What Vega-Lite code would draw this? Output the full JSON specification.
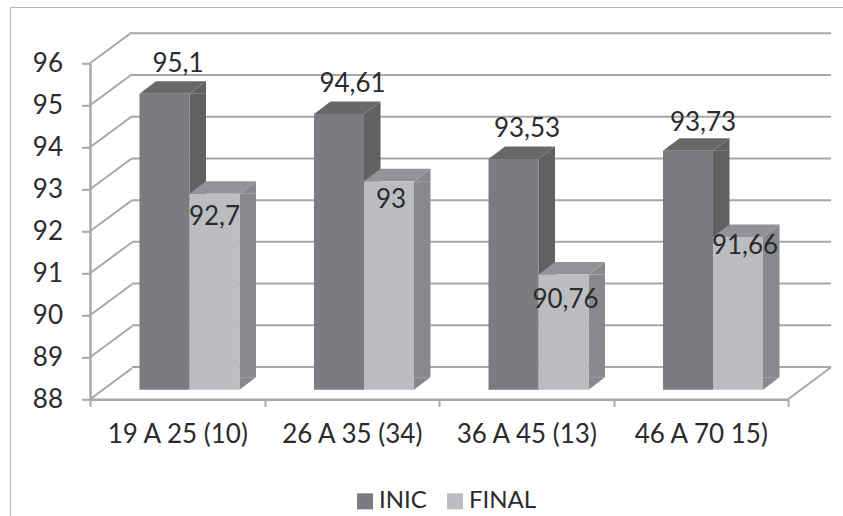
{
  "$schema": "https://vega.github.io/schema/vega-lite/v6.json",
  "width": 698,
  "height": 336,
  "autosize": {"type": "none"},
  "padding": {"left": 90, "top": 63.3, "right": 55, "bottom": 116.7},
  "background": "#ffffff",
  "config": {
    "view": {"stroke": null},
    "font": "Lato",
    "locale": {"number": {"decimal": ",", "thousands": ".", "grouping": [3], "currency": ["", ""]}}
  },
  "datasets": {
    "scores": [
      {"age": "19 A 25 (10)", "series": "INIC", "value": 95.1},
      {"age": "19 A 25 (10)", "series": "FINAL", "value": 92.7},
      {"age": "26 A 35 (34)", "series": "INIC", "value": 94.61},
      {"age": "26 A 35 (34)", "series": "FINAL", "value": 93},
      {"age": "36 A 45 (13)", "series": "INIC", "value": 93.53},
      {"age": "36 A 45 (13)", "series": "FINAL", "value": 90.76},
      {"age": "46 A 70 15)", "series": "INIC", "value": 93.73},
      {"age": "46 A 70 15)", "series": "FINAL", "value": 91.66}
    ],
    "levels": [{"level": 88}, {"level": 89}, {"level": 90}, {"level": 91}, {"level": 92}, {"level": 93}, {"level": 94}, {"level": 95}, {"level": 96}]
  },
  "resolve": {"scale": {"x": "independent", "y": "independent"}},
  "layer": [
    {
      "description": "Outer frame: left and top hairlines",
      "data": {"values": [{"k": 1}]},
      "mark": {"type": "rule", "color": "#b7b7b7", "strokeWidth": 1},
      "encoding": {"x": {"value": -79.5}, "y": {"value": -55.8}, "y2": {"value": 460}}
    },
    {
      "data": {"values": [{"k": 1}]},
      "mark": {"type": "rule", "color": "#b7b7b7", "strokeWidth": 1},
      "encoding": {"x": {"value": -79.5}, "x2": {"value": 760}, "y": {"value": -55.8}}
    },
    {
      "description": "Back wall gridlines",
      "data": {"name": "levels"},
      "mark": {"type": "rule", "color": "#a6a7a9", "strokeWidth": 2, "xOffset": 42, "x2Offset": 43},
      "encoding": {
        "x": {"datum": 0, "type": "quantitative", "scale": {"domain": [0, 1], "range": [0, 698]}, "axis": null},
        "x2": {"datum": 1},
        "y": {"field": "level", "type": "quantitative", "scale": {"domain": [88, 96], "range": [303.7, -30], "nice": false, "zero": false}, "axis": null}
      }
    },
    {
      "description": "Left side wall: slanted lines from the axis to the back wall",
      "data": {"name": "levels"},
      "mark": {"type": "rule", "color": "#a6a7a9", "strokeWidth": 2, "x2Offset": 42, "y2Offset": -31},
      "encoding": {
        "x": {"datum": 0, "type": "quantitative", "scale": {"domain": [0, 1], "range": [0, 698]}, "axis": null},
        "x2": {"datum": 0},
        "y": {"field": "level", "type": "quantitative", "scale": {"domain": [88, 96], "range": [336, 0], "nice": false, "zero": false}, "axis": null},
        "y2": {"field": "level"}
      }
    },
    {
      "description": "Right edge of the floor",
      "data": {"values": [{"level": 88}]},
      "mark": {"type": "rule", "color": "#a6a7a9", "strokeWidth": 2, "x2Offset": 43, "y2Offset": -32},
      "encoding": {
        "x": {"datum": 1, "type": "quantitative", "scale": {"domain": [0, 1], "range": [0, 698]}, "axis": null},
        "x2": {"datum": 1},
        "y": {"field": "level", "type": "quantitative", "scale": {"domain": [88, 96], "range": [336, 0], "nice": false, "zero": false}, "axis": null},
        "y2": {"field": "level"}
      }
    },
    {
      "description": "Invisible layer that carries the axes",
      "data": {"name": "scores"},
      "mark": {"type": "bar", "opacity": 0},
      "encoding": {
        "x": {
          "field": "age", "type": "nominal", "sort": null, "title": null,
          "scale": {"paddingInner": 0, "paddingOuter": 0},
          "axis": {"labelAngle": 0, "labelFontSize": 26, "labelColor": "#2b2b2d", "labelPadding": 15, "tickBand": "extent", "tickSize": 7, "tickWidth": 2, "tickColor": "#a8a9ab", "domainWidth": 2.5, "domainColor": "#a8a9ab", "grid": false, "labelLimit": 200}
        },
        "y": {
          "field": "value", "type": "quantitative", "title": null,
          "scale": {"domain": [88, 96], "range": [336, 0], "nice": false, "zero": false},
          "axis": {"values": [88, 89, 90, 91, 92, 93, 94, 95, 96], "labelFontSize": 26, "labelColor": "#2b2b2d", "labelPadding": 19, "tickSize": 8.5, "tickWidth": 2, "tickColor": "#a8a9ab", "domainWidth": 2.5, "domainColor": "#a8a9ab", "grid": false}
        }
      }
    },
    {
      "description": "Side faces of the bars, on a band scale shifted to the right of each front face",
      "data": {"name": "scores"},
      "mark": {"type": "bar", "width": 16.5, "y2Offset": -12.5},
      "encoding": {
        "x": {"field": "age", "type": "nominal", "sort": null, "scale": {"range": [45.5, 743.5], "paddingInner": 0, "paddingOuter": 0}, "axis": null},
        "xOffset": {"field": "series", "type": "nominal", "sort": ["INIC", "FINAL"], "scale": {"domain": ["INIC", "FINAL"], "paddingInner": 0, "paddingOuter": 0.745}},
        "y": {"field": "value", "type": "quantitative", "scale": {"domain": [88, 96], "range": [326.4, -7.2], "nice": false, "zero": false}, "axis": null},
        "y2": {"datum": 88},
        "color": {"condition": {"test": "datum.series === 'INIC'", "value": "#616163"}, "value": "#88898c"}
      }
    },
    {
      "description": "Bars with their projected side and top faces",
      "data": {"name": "scores"},
      "encoding": {
        "x": {"field": "age", "type": "nominal", "sort": null, "scale": {"range": [12.25, 710.25], "paddingInner": 0, "paddingOuter": 0}, "axis": null},
        "xOffset": {"field": "series", "type": "nominal", "sort": ["INIC", "FINAL"], "scale": {"domain": ["INIC", "FINAL"], "paddingInner": 0, "paddingOuter": 0.745}},
        "y": {"field": "value", "type": "quantitative", "scale": {"domain": [88, 96], "range": [326.4, -7.2], "nice": false, "zero": false}, "axis": null}
      },
      "layer": [
        {
          "mark": {"type": "point", "filled": true, "opacity": 1, "size": 4, "shape": "M25,0L41.5,-12.5L41.5,0Z"},
          "encoding": {
            "color": {"condition": {"test": "datum.series === 'INIC'", "value": "#616163"}, "value": "#88898c"}
          }
        },
        {
          "mark": {"type": "point", "filled": true, "opacity": 1, "size": 4, "shape": "M25,-12.5L41.5,-12.5L25,0Z"},
          "encoding": {
            "y": {"datum": 88},
            "color": {"condition": {"test": "datum.series === 'INIC'", "value": "#616163"}, "value": "#88898c"}
          }
        },
        {
          "mark": {"type": "point", "filled": true, "opacity": 1, "size": 4, "shape": "M-25,0L-8.5,-12.5L41.5,-12.5L25,0Z"},
          "encoding": {
            "color": {"condition": {"test": "datum.series === 'INIC'", "value": "#68686a"}, "value": "#929396"}
          }
        },
        {
          "mark": {"type": "bar"},
          "encoding": {
            "y2": {"datum": 88},
            "color": {
              "field": "series", "type": "nominal", "sort": ["INIC", "FINAL"],
              "scale": {"domain": ["INIC", "FINAL"], "range": ["#7b7c80", "#bcbdc0"]},
              "legend": {"title": null, "orient": "none", "legendX": 263, "legendY": 426, "direction": "horizontal", "columns": 2, "symbolType": "square", "symbolSize": 256, "labelFontSize": 24, "labelColor": "#2b2b2d", "labelOffset": 2, "columnPadding": 16, "symbolOpacity": 1, "symbolStrokeWidth": 0}
            }
          }
        },
        {
          "transform": [{"filter": "datum.series === 'INIC' && datum.value !== 93.73"}],
          "mark": {"type": "text", "fontSize": 26, "color": "#2b2b2d", "dx": 13.5, "dy": -30},
          "encoding": {"text": {"field": "value", "type": "quantitative", "format": ".2~f"}}
        },
        {
          "transform": [{"filter": "datum.series === 'INIC' && datum.value === 93.73"}],
          "mark": {"type": "text", "fontSize": 26, "color": "#2b2b2d", "dx": 15, "dy": -28},
          "encoding": {"text": {"field": "value", "type": "quantitative", "format": ".2~f"}}
        },
        {
          "transform": [{"filter": "datum.series === 'FINAL' && datum.value === 92.7"}],
          "mark": {"type": "text", "fontSize": 26, "color": "#2b2b2d", "dy": 23},
          "encoding": {"text": {"field": "value", "type": "quantitative", "format": ".2~f"}}
        },
        {
          "transform": [{"filter": "datum.series === 'FINAL' && datum.value === 93"}],
          "mark": {"type": "text", "fontSize": 26, "color": "#2b2b2d", "dx": 2, "dy": 19},
          "encoding": {"text": {"field": "value", "type": "quantitative", "format": ".2~f"}}
        },
        {
          "transform": [{"filter": "datum.series === 'FINAL' && datum.value === 90.76"}],
          "mark": {"type": "text", "fontSize": 26, "color": "#2b2b2d", "dx": 2, "dy": 25},
          "encoding": {"text": {"field": "value", "type": "quantitative", "format": ".2~f"}}
        },
        {
          "transform": [{"filter": "datum.series === 'FINAL' && datum.value === 91.66"}],
          "mark": {"type": "text", "fontSize": 26, "color": "#2b2b2d", "dx": 7, "dy": 9},
          "encoding": {"text": {"field": "value", "type": "quantitative", "format": ".2~f"}}
        }
      ]
    }
  ]
}
